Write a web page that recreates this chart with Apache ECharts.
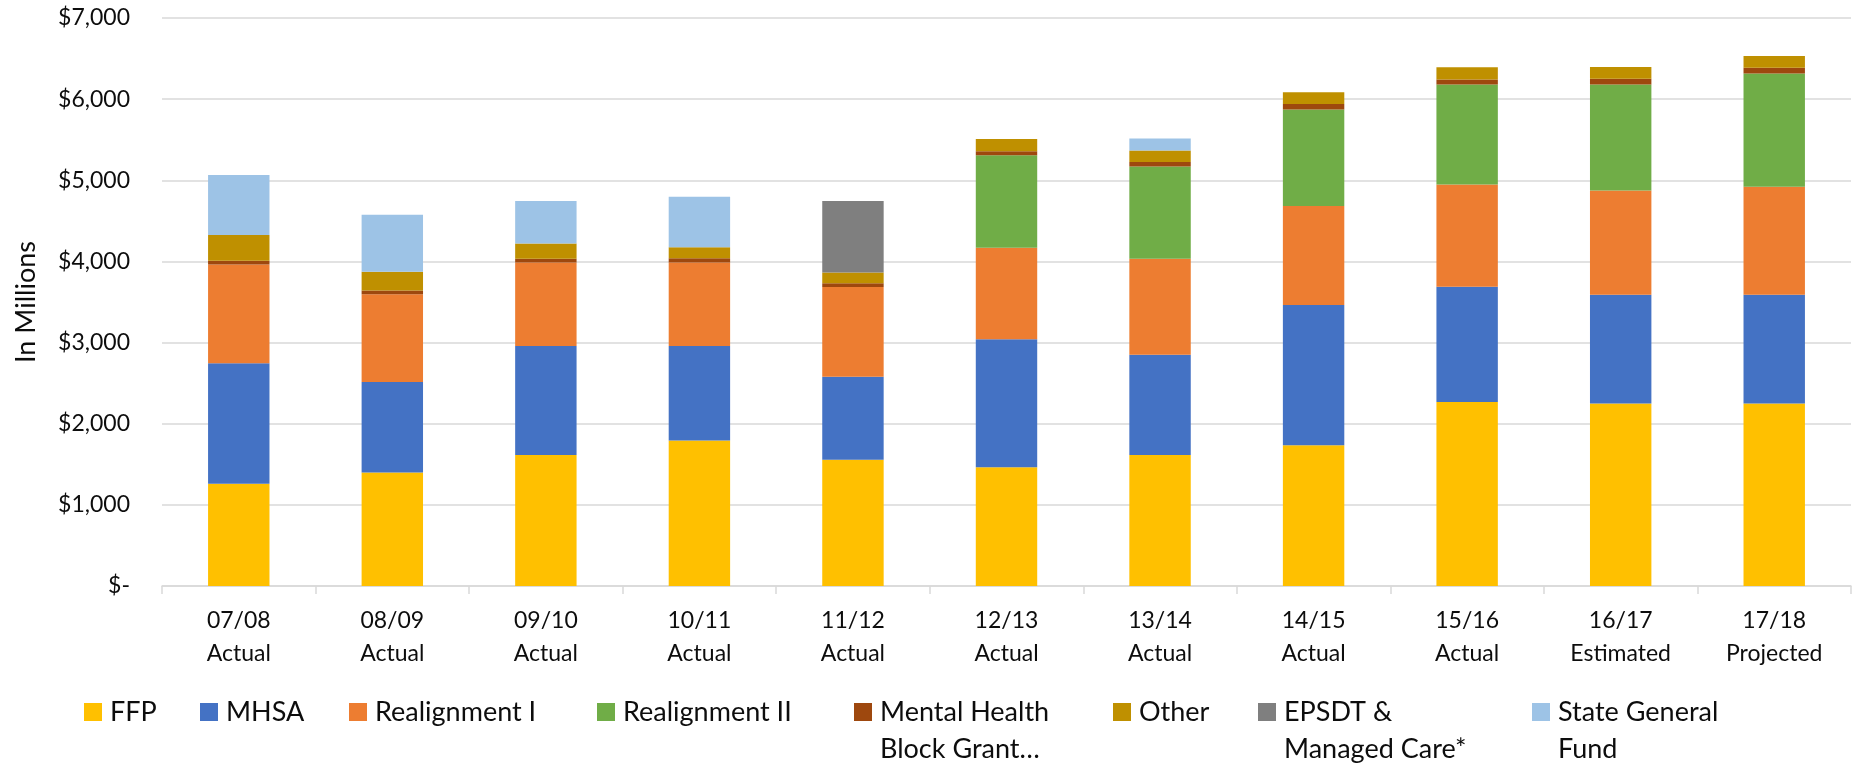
<!DOCTYPE html>
<html style="height: 100%">

<head>
    <meta charset="utf-8">
</head>

<body style="height: 100%; margin: 0; background: #fff">
    <div id="container" style="width: 1852px; height: 766px"></div>
    <script type="text/javascript" src="https://cdn.jsdelivr.net/npm/echarts@6/dist/echarts.min.js"></script>
    <script type="text/javascript">
        // fiscal years and their status (shown on two lines under each bar)
        var years = ['07/08', '08/09', '09/10', '10/11', '11/12', '12/13', '13/14', '14/15', '15/16', '16/17', '17/18'];
        var yearStatus = ['Actual', 'Actual', 'Actual', 'Actual', 'Actual', 'Actual', 'Actual', 'Actual', 'Actual', 'Estimated', 'Projected'];

        // $ millions
        var ffp = [1260, 1400, 1613, 1792, 1557, 1462, 1613, 1736, 2269, 2250, 2250];
        var mhsa = [1485, 1114, 1345, 1166, 1023, 1580, 1236, 1726, 1420, 1340, 1340];
        var realign1 = [1217, 1080, 1028, 1028, 1104, 1128, 1184, 1222, 1259, 1283, 1330];
        var realign2 = [0, 0, 0, 0, 0, 1137, 1137, 1189, 1231, 1306, 1396];
        var blockGrant = [47, 48, 47, 52, 47, 51, 56, 66, 62, 71, 71];
        var other = [316, 231, 189, 137, 132, 151, 142, 146, 151, 146, 146];
        var epsdt = [0, 0, 0, 0, 882, 0, 0, 0, 0, 0, 0];
        var stateFund = [741, 702, 523, 622, 0, 0, 146, 0, 0, 0, 0];

        var yTickLabels = ['$-', '$1,000', '$2,000', '$3,000', '$4,000', '$5,000', '$6,000', '$7,000'];

        var seriesNames = ['FFP', 'MHSA', 'Realignment I', 'Realignment II', 'Mental Health Block Grant', 'Other', 'EPSDT & Managed Care*', 'State General Fund'];
        // wrapped legend labels; a blank first line keeps the icon level with the first text line
        var legendText = ['FFP', 'MHSA', 'Realignment I', 'Realignment II', ' \nMental Health\nBlock Grant…', 'Other', ' \nEPSDT &\nManaged Care*', ' \nState General\nFund'];
        var seriesData = [ffp, mhsa, realign1, realign2, blockGrant, other, epsdt, stateFund];
        var colors = ['#FFC000', '#4472C4', '#ED7D31', '#70AD47', '#9E480E', '#BF9000', '#7F7F7F', '#9DC3E6'];

        var font = 'Lato';
        var textColor = '#0d0d0d';
        var legendLeft = [84, 200, 349, 597, 854, 1113, 1258, 1532];
        var legendLine = 37;
        var legendMid = 712;

        var dom = document.getElementById('container');
        var myChart = echarts.init(dom, null, { renderer: 'canvas' });

        var legends = seriesNames.map(function (name, i) {
            var multi = legendText[i].indexOf('\n') >= 0;
            return {
                left: legendLeft[i],
                top: multi ? legendMid - legendLine * 1.5 : legendMid - legendLine / 2,
                padding: 0,
                icon: 'rect',
                itemWidth: 18,
                itemHeight: 18,
                selectedMode: false,
                data: [name],
                formatter: function () { return legendText[i]; },
                textStyle: {
                    fontFamily: font,
                    fontSize: 27,
                    color: textColor,
                    lineHeight: legendLine,
                    padding: [0, 0, 0, 3]
                }
            };
        });

        var option = {
            animation: false,
            color: colors,
            legend: legends,
            grid: { left: 162, right: 1, top: 18, bottom: 180 },
            xAxis: {
                type: 'category',
                data: years.map(function (y, i) { return y + '\n' + yearStatus[i]; }),
                axisLine: { lineStyle: { color: '#d9d9d9', width: 1.5 } },
                axisTick: { show: true, length: 8, lineStyle: { color: '#d9d9d9', width: 1.5 } },
                axisLabel: {
                    fontFamily: font,
                    fontSize: 23,
                    color: textColor,
                    lineHeight: 33,
                    margin: 18
                }
            },
            yAxis: {
                type: 'value',
                min: 0,
                max: 7000,
                interval: 1000,
                name: 'In Millions',
                nameLocation: 'middle',
                nameRotate: 90,
                nameGap: 122,
                nameTextStyle: { fontFamily: font, fontSize: 27, color: textColor },
                axisLine: { show: false },
                axisTick: { show: false },
                splitLine: { lineStyle: { color: '#d9d9d9', width: 1.5 } },
                axisLabel: {
                    fontFamily: font,
                    fontSize: 23,
                    color: textColor,
                    margin: 32,
                    formatter: function (v) { return yTickLabels[Math.round(v / 1000)]; }
                }
            },
            series: seriesNames.map(function (name, i) {
                return {
                    name: name,
                    type: 'bar',
                    stack: 'total',
                    barWidth: '40%',
                    data: seriesData[i]
                };
            })
        };

        myChart.setOption(option, true);
    </script>
</body>

</html>
